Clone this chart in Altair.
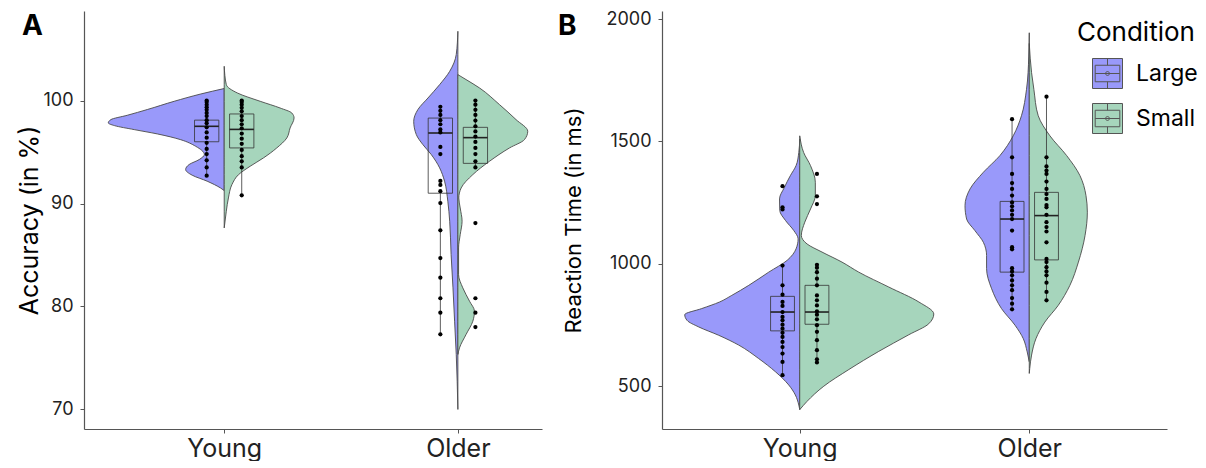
import altair as alt
import pandas as pd

FONT = "Inter"
COL_LARGE = "#9999FA"
COL_SMALL = "#A6D5BC"

groups = ["Young", "Older"]
conds = ["Large", "Small"]

# ---------------- Panel A : Accuracy (in %) ----------------
acc_young_large = [100.0, 99.86, 99.6, 99.35, 99.1, 98.8, 98.5, 98.1, 97.8, 97.4, 96.9, 96.4, 95.9, 95.3, 94.8, 94.2, 93.5, 92.7]
acc_young_small = [100.0, 99.86, 99.6, 99.3, 98.96, 98.5, 98.1, 97.7, 97.3, 96.8, 96.3, 95.8, 95.2, 94.6, 94.1, 93.5, 90.8]
acc_older_large = [99.4, 99.0, 98.6, 98.1, 97.7, 97.2, 96.9, 95.5, 94.8, 92.2, 91.8, 91.2, 90.05, 87.4, 84.7, 82.8, 80.8, 79.4, 77.3]
acc_older_small = [100.0, 99.6, 99.1, 98.6, 98.06, 97.5, 97.0, 96.5, 95.98, 95.4, 94.8, 94.1, 93.5, 88.1, 80.8, 79.4, 78.0]

# violin density profiles (value, half width in category units)
acc_vyl_val = [101.17, 100.64, 99.93, 99.13, 98.57, 98.15, 97.83, 97.57, 97.18, 96.76, 96.2, 95.56, 94.76, 94.27, 93.79, 93.3, 92.75, 92.17, 91.5, 91.26]
acc_vyl_w = [0, .100, .214, .329, .415, .485, .496, .470, .385, .286, .186, .122, .085, .107, .150, .165, .137, .073, .015, 0]
acc_vys_val = [103.33, 101.55, 100.74, 99.93, 99.28, 98.8, 98.31, 97.34, 96.37, 95.4, 94.43, 93.62, 92.8, 91.84, 90.54, 89.25, 87.63]
acc_vys_w = [0, .009, .056, .154, .239, .289, .299, .282, .268, .225, .168, .111, .061, .033, .018, .009, 0]
acc_vol_val = [106.73, 104.47, 102.84, 101.55, 100.25, 99.13, 97.99, 96.7, 95.73, 94.76, 93.46, 92.17, 90.22, 88.28, 85.05, 81.81, 78.57, 75.34, 72.75, 70.0]
acc_vol_w = [0, .007, .035, .078, .128, .171, .189, .178, .150, .114, .078, .057, .043, .035, .029, .021, .014, .007, .003, 0]
acc_vos_val = [102.52, 102.04, 101.22, 99.61, 98.15, 97.02, 96.21, 95.4, 94.1, 92.81, 91.51, 90.54, 89.57, 88.28, 86.98, 85.69, 83.1, 81.81, 80.51, 79.54, 78.57, 77.28, 75.98, 75.34]
acc_vos_w = [0, .035, .093, .178, .249, .299, .285, .221, .135, .064, .014, .004, .010, .018, .010, .003, .003, .021, .050, .071, .064, .035, .007, 0]

# box statistics, order: Young-Large, Young-Small, Older-Large, Older-Small
acc_lo = [92.7, 90.8, 77.3, 93.5]
acc_q1 = [96.0, 95.4, 91.0, 93.9]
acc_med = [97.5, 97.2, 96.85, 96.4]
acc_q3 = [98.1, 98.7, 98.3, 97.4]
acc_hi = [100.0, 100.0, 99.4, 100.0]

# ---------------- Panel B : Reaction Time (in ms) ----------------
rt_young_large = [1317, 1231, 1222, 993, 912, 874, 844, 828, 803, 783, 769, 751, 735, 718, 701, 681, 660, 633, 599, 545]
rt_young_small = [1367, 1276, 1244, 996, 984, 966, 939, 912, 871, 851, 830, 806, 792, 773, 749, 722, 688, 647, 610, 597]
rt_older_large = [1591, 1435, 1367, 1330, 1306, 1279, 1251, 1235, 1218, 1200, 1183, 1136, 1068, 1059, 982, 969, 953, 932, 912, 892, 860, 837, 814]
rt_older_small = [1683, 1435, 1398, 1381, 1367, 1336, 1306, 1285, 1265, 1240, 1231, 1200, 1170, 1150, 1132, 1088, 1020, 1007, 986, 969, 953, 923, 885, 851]

rt_vyl_val = [1510, 1455, 1401, 1360, 1312, 1265, 1218, 1177, 1136, 1102, 1061, 1014, 966, 912, 871, 844, 817, 792, 769, 742, 708, 668, 613, 559, 505, 464, 423, 405]
rt_vyl_w = [0, .004, .016, .041, .067, .088, .087, .062, .026, .007, .016, .055, .135, .222, .296, .349, .427, .501, .491, .440, .353, .266, .179, .106, .048, .019, .004, 0]
rt_vys_val = [1523, 1455, 1401, 1333, 1279, 1224, 1170, 1116, 1081, 1048, 1007, 966, 905, 844, 795, 755, 710, 642, 568, 500, 437, 404]
rt_vys_w = [0, .017, .047, .068, .068, .047, .022, .007, .032, .097, .184, .257, .388, .519, .584, .562, .475, .344, .214, .105, .031, 0]
rt_vol_val = [1944, 1849, 1713, 1605, 1523, 1442, 1374, 1306, 1238, 1183, 1136, 1088, 1034, 980, 898, 817, 749, 694, 640, 600]
rt_vol_w = [0, .002, .012, .034, .070, .128, .200, .258, .280, .273, .237, .200, .186, .186, .164, .121, .062, .026, .009, 0]
rt_vos_val = [1900, 1781, 1713, 1605, 1523, 1442, 1360, 1279, 1211, 1116, 1007, 912, 830, 762, 694, 627, 572, 552]
rt_vos_w = [0, .010, .020, .039, .090, .163, .221, .247, .253, .243, .214, .177, .126, .068, .029, .010, .002, 0]

rt_lo = [545, 597, 814, 851]
rt_q1 = [726, 753, 966, 1016]
rt_med = [803, 803, 1183, 1197]
rt_q3 = [867, 912, 1255, 1292]
rt_hi = [993, 996, 1591, 1683]

NUDGE = 0.075
BOXHALF = 0.052
POS = {"Young": 1, "Older": 2}
SIGN = {"Large": -1, "Small": 1}
ORDER = [("Young", "Large"), ("Young", "Small"), ("Older", "Large"), ("Older", "Small")]


def violin_df(profiles):
    rows = []
    for (age, cond), (vals, ws) in zip(ORDER, profiles):
        p = POS[age]
        for v, w in zip(vals, ws):
            rows.append(dict(age=age, cond=cond, grp=age + cond, val=v, pos=p, xe=p + SIGN[cond] * w))
    return pd.DataFrame(rows)


def dots_df(lists):
    rows = []
    for (age, cond), vals in zip(ORDER, lists):
        for v in vals:
            rows.append(dict(cond=cond, val=v, dx=POS[age] + SIGN[cond] * NUDGE))
    return pd.DataFrame(rows)


def box_df(lo, q1, med, q3, hi):
    rows = []
    for i, (age, cond) in enumerate(ORDER):
        bx = POS[age] + SIGN[cond] * NUDGE
        rows.append(dict(cond=cond, bx=bx, bl=bx - BOXHALF, br=bx + BOXHALF,
                         lo=lo[i], q1=q1[i], med=med[i], q3=q3[i], hi=hi[i]))
    return pd.DataFrame(rows)


legend_symbol = ("M-1,-1H1V1H-1Z M-0.82,-0.55H0.82V0.55H-0.82Z M-0.82,0H0.82 "
                 "M0,-1V-0.55 M0,0.55V1 M-0.13,0a0.13,0.13 0 1,0 0.26,0a0.13,0.13 0 1,0 -0.26,0")

color_scale = alt.Scale(domain=conds, range=[COL_LARGE, COL_SMALL])
legend = alt.Legend(title="Condition", orient="none", legendX=993, legendY=9,
                    titleFont=FONT, titleFontSize=26, titleFontWeight="normal", titleColor="black",
                    titlePadding=12, labelFont=FONT, labelFontSize=23, labelColor="black",
                    symbolType=legend_symbol, symbolSize=900, symbolStrokeColor="#555",
                    symbolStrokeWidth=1, symbolOpacity=1, symbolOffset=15, rowPadding=10,
                    labelOffset=13, padding=0)


def panel(vdf, ddf, bdf, ydom, yticks, ytitle, xdom, width, letter, letter_x, title_pad, title_size):
    xscale = alt.Scale(domain=xdom, nice=False, zero=False)
    yscale = alt.Scale(domain=ydom, nice=False, zero=False)
    xaxis = alt.Axis(values=[1, 2], labelExpr="datum.value == 1 ? 'Young' : 'Older'", title=None,
                     grid=False, labelFontSize=25, labelPadding=3, tickSize=4)
    yaxis = alt.Axis(values=yticks, format="d", title=ytitle, grid=False, titlePadding=title_pad,
                     titleFontSize=title_size, labelPadding=7)

    def X(f):
        return alt.X(f, type="quantitative", scale=xscale, axis=xaxis)

    def Y(f):
        return alt.Y(f, type="quantitative", scale=yscale, axis=yaxis)

    viol = alt.Chart(vdf).mark_area(orient="horizontal", interpolate="monotone", stroke="#4a4a4a",
                                    strokeWidth=0.9, fillOpacity=1).encode(
        x=X("xe"), x2="pos:Q", y=Y("val"),
        color=alt.Color("cond:N", scale=color_scale, legend=legend),
        detail="grp:N")
    box = alt.Chart(bdf).mark_rect(fillOpacity=0, stroke="#333", strokeWidth=0.8).encode(
        x=X("bl"), x2="br:Q", y=Y("q1"), y2="q3:Q")
    wlo = alt.Chart(bdf).mark_rule(color="#333", strokeWidth=0.8).encode(x=X("bx"), y=Y("lo"), y2="q1:Q")
    whi = alt.Chart(bdf).mark_rule(color="#333", strokeWidth=0.8).encode(x=X("bx"), y=Y("q3"), y2="hi:Q")
    med = alt.Chart(bdf).mark_rule(color="#222", strokeWidth=1.6).encode(x=X("bl"), x2="br:Q", y=Y("med"))
    dots = alt.Chart(ddf).mark_circle(size=18, color="black", opacity=1).encode(x=X("dx"), y=Y("val"))
    lab = alt.Chart(pd.DataFrame({"t": [letter]})).mark_text(
        font=FONT, fontSize=28, fontWeight="bold", align="left", baseline="top", color="black").encode(
        text="t:N", x=alt.value(letter_x), y=alt.value(2))
    return alt.layer(viol, box, wlo, whi, med, dots, lab).properties(width=width, height=418)


pa = panel(
    violin_df([(acc_vyl_val, acc_vyl_w), (acc_vys_val, acc_vys_w), (acc_vol_val, acc_vol_w), (acc_vos_val, acc_vos_w)]),
    dots_df([acc_young_large, acc_young_small, acc_older_large, acc_older_small]),
    box_df(acc_lo, acc_q1, acc_med, acc_q3, acc_hi),
    [68.1, 108.7], [70, 80, 90, 100], "Accuracy (in %)", [0.4, 2.36], 458, "A", -62, 0, 25)

pb = panel(
    violin_df([(rt_vyl_val, rt_vyl_w), (rt_vys_val, rt_vys_w), (rt_vol_val, rt_vol_w), (rt_vos_val, rt_vos_w)]),
    dots_df([rt_young_large, rt_young_small, rt_older_large, rt_older_small]),
    box_df(rt_lo, rt_q1, rt_med, rt_q3, rt_hi),
    [325, 2033], [500, 1000, 1500, 2000], "Reaction Time (in ms)", [0.4, 2.6], 505, "B", -104, 20, 22)

chart = alt.hconcat(pa, pb, spacing=16).properties(
    padding={"left": 9, "top": 2, "right": 0, "bottom": 0}
).configure_view(stroke=None).configure_axis(
    domainColor="#555", domainWidth=1.2, tickColor="#555", tickWidth=1, tickSize=4,
    labelFont=FONT, labelFontSize=18, labelColor="#222", labelPadding=4,
    titleFont=FONT, titleFontSize=24, titleFontWeight="normal", titleColor="black"
)

chart.save("out.html", embed_options={"renderer": "svg", "actions": False})
